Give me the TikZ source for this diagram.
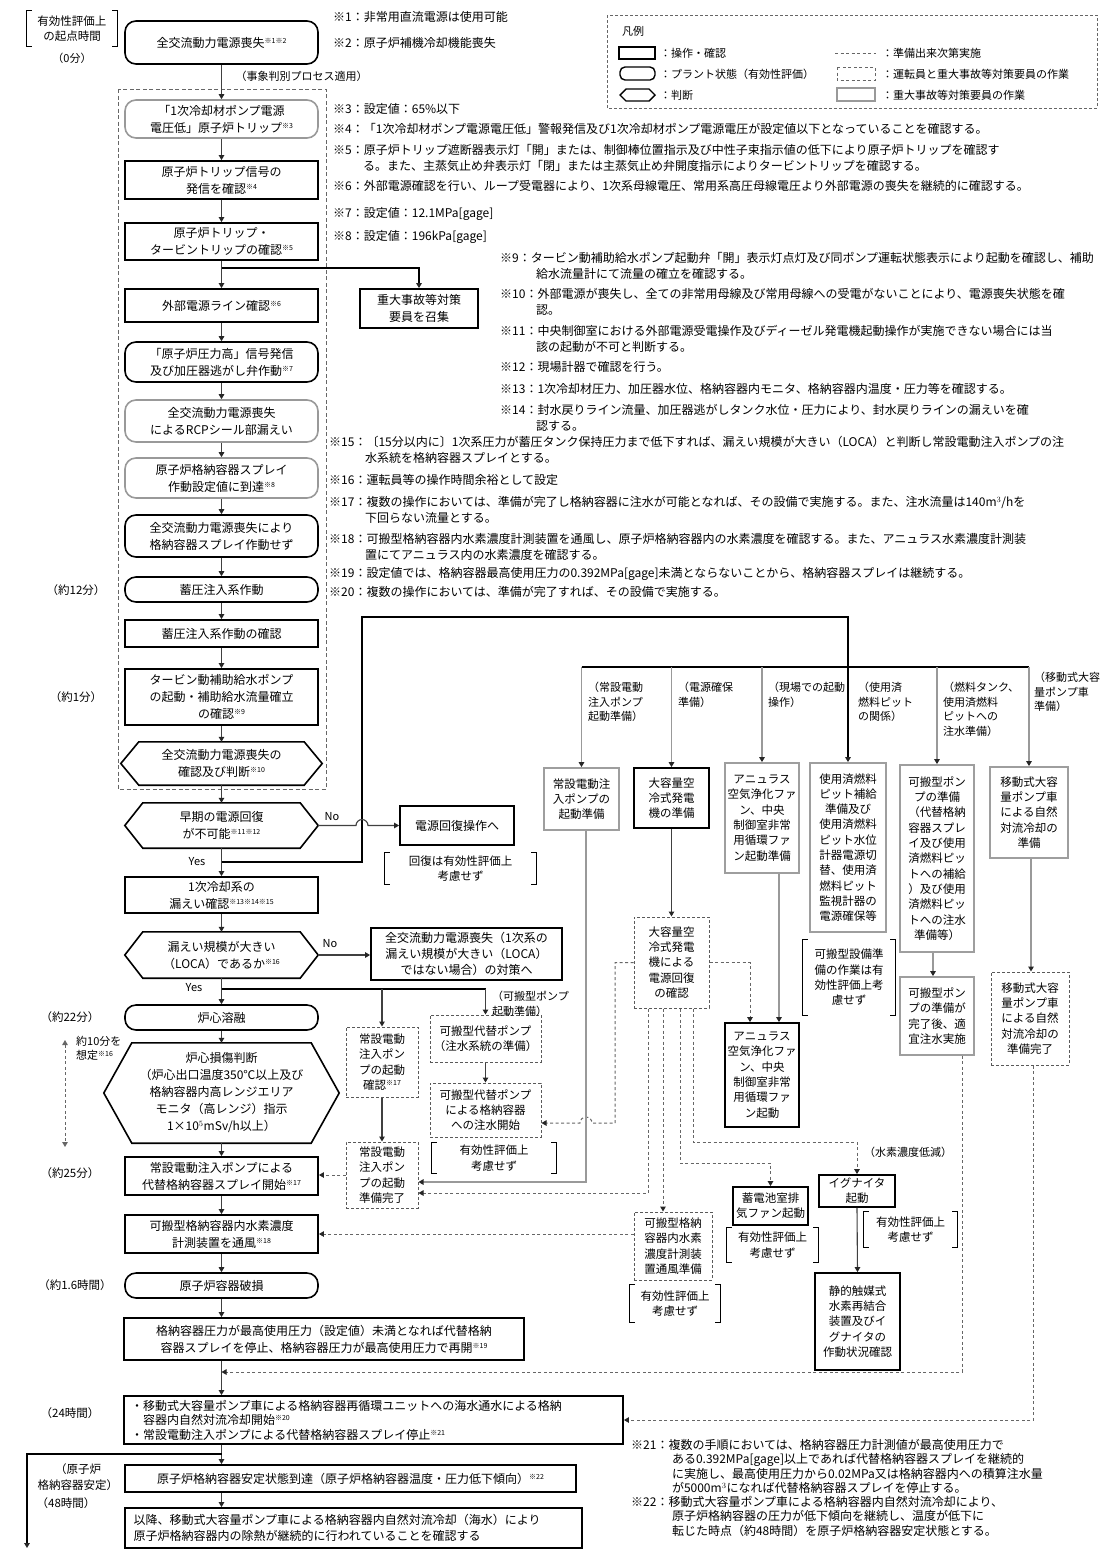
\documentclass[tikz,border=0pt]{standalone}
\usepackage{fontspec}
\setmainfont{Noto Sans CJK JP}
\usetikzlibrary{arrows.meta}
\newcommand{\sups}[1]{\raisebox{0.6ex}{\fontsize{7}{7}\selectfont #1}}
\newcommand{\mkbox}[7][]{%
 \pgfmathsetmacro{\mybw}{#5-#3}\pgfmathsetmacro{\mybh}{#6-#4}%
 \pgfmathsetmacro{\mycx}{(#3+#5)/2}\pgfmathsetmacro{\mycy}{(#4+#6)/2}%
 \node[#1, minimum width=\mybw pt, minimum height=\mybh pt] (#2) at (\mycx,\mycy) {#7};}
\newcommand{\mkhex}[8][]{%
 \pgfmathsetmacro{\mybw}{#5-#3}\pgfmathsetmacro{\mybh}{#6-#4}%
 \pgfmathsetmacro{\mycx}{(#3+#5)/2}\pgfmathsetmacro{\mycy}{(#4+#6)/2}%
 \node[fm, align=center, inner sep=1pt, minimum width=\mybw pt, minimum height=\mybh pt] (#2) at (\mycx,\mycy) {#8};
 \draw[#1] (#2.west) -- ([xshift=#7pt]#2.north west) -- ([xshift=-#7pt]#2.north east) -- (#2.east) -- ([xshift=-#7pt]#2.south east) -- ([xshift=#7pt]#2.south west) -- cycle;}
\newcommand{\mkbrk}[6]{%
 \pgfmathsetmacro{\mybw}{#4-#2}\pgfmathsetmacro{\mybh}{#5-#3}%
 \pgfmathsetmacro{\mycx}{(#2+#4)/2}\pgfmathsetmacro{\mycy}{(#3+#5)/2}%
 \node[fc, align=center, inner sep=1pt, minimum width=\mybw pt, minimum height=\mybh pt] (#1) at (\mycx,\mycy) {#6};
 \draw[line width=1.3pt] ([xshift=5pt]#1.north west) -- (#1.north west) -- (#1.south west) -- ([xshift=5pt]#1.south west);
 \draw[line width=1.3pt] ([xshift=-5pt]#1.north east) -- (#1.north east) -- (#1.south east) -- ([xshift=-5pt]#1.south east);}
\tikzset{
 fm/.style={font=\fontsize{12}{17}\selectfont},
 fc/.style={font=\fontsize{11.5}{15.3}\selectfont},
 fl/.style={font=\fontsize{11}{14.5}\selectfont},
 fn/.style={font=\fontsize{12}{16}\selectfont},
 opb/.style={draw=black, line width=1.8pt, align=center, inner sep=1pt},
 stb/.style={draw=black, line width=1.6pt, rounded corners=11pt, align=center, inner sep=1pt},
 stg/.style={stb, draw=black!40},
 gyb/.style={draw=black!38, line width=1.8pt, align=center, inner sep=1pt},
 dsb/.style={draw=black!65, line width=1pt, dash pattern=on 3pt off 2pt, align=center, inner sep=1pt},
 hexl/.style={draw=black, line width=1.6pt},
 lab/.style={align=left, inner sep=0pt},
 ar/.style={-{Triangle[length=5pt,width=5.5pt,color=black!85]}},
 mline/.style={draw=black!75, line width=1.1pt},
 bline/.style={draw=black, line width=2pt},
 gline/.style={draw=black!40, line width=1.8pt},
 dline/.style={draw=black!60, line width=1pt, dash pattern=on 3pt off 2.5pt},
}
\begin{document}
\begin{tikzpicture}[x=1pt,y=-1pt]
\useasboundingbox (0,0) rectangle (1113,1551);
\fill[white] (0,0) rectangle (1113,1551);

% ---------- top left ----------
\mkbrk{tl}{27}{11}{117}{46}{有効性評価上\\の起点時間}
\node[fl] (t0) at (72,58) {（0分）};

% ---------- legend ----------
\draw[draw=black!60, line width=0.8pt, dash pattern=on 3pt off 2pt] (607,15) rectangle (1097,108);
\node[fl,lab,anchor=west] (legT) at (622,31) {凡例};
\draw[line width=1.8pt] (619,47) rectangle (655,59);
\node[fl,lab,anchor=west] (leg1) at (660,53) {：操作・確認};
\draw[line width=1.4pt, rounded corners=5pt] (620,67) rectangle (655,80);
\node[fl,lab,anchor=west] (leg2) at (660,74) {：プラント状態（有効性評価）};
\draw[line width=1.4pt] (620,95) -- (626,89) -- (649,89) -- (655,95) -- (649,101) -- (626,101) -- cycle;
\node[fl,lab,anchor=west] (leg3) at (660,95) {：判断};
\draw[dline] (835,53) -- (876,53);
\node[fl,lab,anchor=west] (leg4) at (882,53) {：準備出来次第実施};
\draw[dline] (837,67) rectangle (875,80);
\node[fl,lab,anchor=west] (leg5) at (882,74) {：運転員と重大事故等対策要員の作業};
\draw[gline] (837,88) rectangle (875,101);
\node[fl,lab,anchor=west] (leg6) at (882,95) {：重大事故等対策要員の作業};

% ---------- main column ----------
\coordinate (mx) at (221.5,0);
\mkbox[stb,fm]{B1}{125}{21}{318}{64}{全交流動力電源喪失\sups{※1※2}}
\node[fl,anchor=west] (lproc) at (232,76) {（事象判別プロセス適用）};
\draw[draw=black!60, line width=1pt, dash pattern=on 4pt off 2.5pt] (118,89) rectangle (326,789);
\mkbox[stg,fm]{B2}{125}{100}{318}{138}{「1次冷却材ポンプ電源\\電圧低」原子炉トリップ\sups{※3}}
\mkbox[opb,fm]{B3}{125}{161}{318}{199}{原子炉トリップ信号の\\発信を確認\sups{※4}}
\mkbox[opb,fm]{B4}{125}{223}{318}{260}{原子炉トリップ・\\タービントリップの確認\sups{※5}}
\mkbox[opb,fm]{B5}{125}{289}{318}{322}{外部電源ライン確認\sups{※6}}
\mkbox[opb,fm]{SA}{360}{289}{478}{328}{重大事故等対策\\要員を召集}
\mkbox[stb,fm]{B6}{125}{342}{318}{382}{「原子炉圧力高」信号発信\\及び加圧器逃がし弁作動\sups{※7}}
\mkbox[stg,fm]{B7}{125}{400}{318}{442}{全交流動力電源喪失\\によるRCPシール部漏えい}
\mkbox[stg,fm]{B8}{125}{458}{318}{498}{原子炉格納容器スプレイ\\作動設定値に到達\sups{※8}}
\mkbox[stb,fm]{B9}{125}{515}{318}{557}{全交流動力電源喪失により\\格納容器スプレイ作動せず}
\mkbox[stb,fm]{B10}{125}{577}{318}{602}{蓄圧注入系作動}
\mkbox[opb,fm]{B11}{125}{620}{318}{647}{蓄圧注入系作動の確認}
\mkbox[opb,fm]{B12}{125}{669}{318}{725}{タービン動補助給水ポンプ\\の起動・補助給水流量確立\\の確認\sups{※9}}
\mkhex[hexl]{H13}{121}{742}{322}{785}{18}{全交流動力電源喪失の\\確認及び判断\sups{※10}}
\mkhex[hexl]{H14}{125}{803}{318}{848}{18}{早期の電源回復\\が不可能\sups{※11※12}}
\mkbox[opb,fm]{RC}{400}{806}{514}{845}{電源回復操作へ}
\mkbrk{RCb}{385}{853}{536}{884}{回復は有効性評価上\\考慮せず}
\mkbox[opb,fm]{B15}{125}{877}{318}{913}{1次冷却系の\\漏えい確認\sups{※13※14※15}}
\mkhex[hexl]{H16}{125}{932}{318}{978}{18}{漏えい規模が大きい\\（LOCA）であるか\sups{※16}}
\mkbox[opb,font=\fontsize{12}{16}\selectfont]{NB}{371}{928}{562}{980}{全交流動力電源喪失（1次系の\\漏えい規模が大きい（LOCA）\\ではない場合）の対策へ}
\mkbox[stb,fm]{R1}{125}{1005}{318}{1030}{炉心溶融}
\mkhex[hexl]{H17}{104}{1043}{339}{1143}{28}{炉心損傷判断\\（炉心出口温度350℃以上及び\\格納容器内高レンジエリア\\モニタ（高レンジ）指示\\1×10$^{5}$mSv/h以上）}
\mkbox[opb,fm]{B18}{125}{1157}{318}{1195}{常設電動注入ポンプによる\\代替格納容器スプレイ開始\sups{※17}}
\mkbox[opb,fm]{B19}{125}{1215}{318}{1253}{可搬型格納容器内水素濃度\\計測装置を通風\sups{※18}}
\mkbox[stb,fm]{R20}{125}{1273}{318}{1298}{原子炉容器破損}
\mkbox[opb,fm]{B21}{124}{1318}{524}{1360}{格納容器圧力が最高使用圧力（設定値）未満となれば代替格納\\容器スプレイを停止、格納容器圧力が最高使用圧力で再開\sups{※19}}
\mkbox[opb,font=\fontsize{12}{14.5}\selectfont,align=left,text width=485pt]{B22}{124}{1396}{623}{1444}{・移動式大容量ポンプ車による格納容器再循環ユニットへの海水通水による格納\\\hspace*{1em}容器内自然対流冷却開始\sups{※20}\\・常設電動注入ポンプによる代替格納容器スプレイ停止\sups{※21}}
\mkbox[opb,fm]{B23}{125}{1465}{576}{1492}{原子炉格納容器安定状態到達（原子炉格納容器温度・圧力低下傾向）\sups{※22}}
\mkbox[opb,font=\fontsize{12}{16}\selectfont,align=left,text width=440pt]{B24}{125}{1508}{582}{1548}{以降、移動式大容量ポンプ車による格納容器内自然対流冷却（海水）により\\原子炉格納容器内の除熱が継続的に行われていることを確認する}

% left time labels
\node[fc] (t1) at (76,590) {（約12分）};
\node[fc] (t2) at (76,697) {（約1分）};
\node[fc] (t3) at (70,1017) {（約22分）};
\node[fc] (t4) at (70,1173) {（約25分）};
\node[fc] (t5) at (75,1285) {（約1.6時間）};
\node[fc] (t6) at (70,1413) {（24時間）};
\node[fc,align=center] (t7) at (78,1477) {（原子炉\\格納容器安定）};
\node[fc] (t8) at (66,1503) {（48時間）};
\coordinate (ta) at (65,1040);
\coordinate (tb) at (65,1147);
\draw[dline,{Triangle[length=5pt,width=5.5pt]}-{Triangle[length=5pt,width=5.5pt]}] (ta) -- (tb);
\node[fl,lab,anchor=north west] (t9) at (76,1036) {約10分を\\想定\sups{※16}};

% ---------- right side ----------
\mkbox[gyb,fc]{C1}{544}{768}{619}{830}{常設電動注\\入ポンプの\\起動準備}
\mkbox[opb,fc]{C2}{634}{768}{709}{828}{大容量空\\冷式発電\\機の準備}
\mkbox[gyb,fc]{C3}{725}{763}{799}{873}{アニュラス\\空気浄化ファ\\ン、中央\\制御室非常\\用循環ファ\\ン起動準備}
\mkbox[gyb,fc]{C4}{810}{763}{886}{932}{使用済燃料\\ピット補給\\準備及び\\使用済燃料\\ピット水位\\計器電源切\\替、使用済\\燃料ピット\\監視計器の\\電源確保等}
\mkbox[gyb,fc]{C5}{900}{765}{974}{952}{可搬型ポン\\プの準備\\（代替格納\\容器スプレ\\イ及び使用\\済燃料ピッ\\トへの補給\\）及び使用\\済燃料ピッ\\トへの注水\\準備等）}
\mkbox[gyb,fc]{C6}{990}{767}{1068}{858}{移動式大容\\量ポンプ車\\による自然\\対流冷却の\\準備}
\mkbox[dsb,fc]{C2b}{634}{917}{709}{1008}{大容量空\\冷式発電\\機による\\電源回復\\の確認}
\mkbox[opb,fc]{C3b}{725}{1023}{799}{1127}{アニュラス\\空気浄化ファ\\ン、中央\\制御室非常\\用循環ファ\\ン起動}
\mkbrk{C4r}{803}{940}{895}{1015}{可搬型設備準\\備の作業は有\\効性評価上考\\慮せず}
\mkbox[gyb,fc]{C5b}{900}{977}{974}{1055}{可搬型ポン\\プの準備が\\完了後、適\\宜注水実施}
\mkbox[dsb,fc]{C6b}{991}{972}{1069}{1065}{移動式大容\\量ポンプ車\\による自然\\対流冷却の\\準備完了}
\mkbox[dsb,fc]{S1}{346}{1027}{418}{1097}{常設電動\\注入ポン\\プの起動\\確認\sups{※17}}
\mkbox[dsb,fc]{S2}{346}{1142}{418}{1208}{常設電動\\注入ポン\\プの起動\\準備完了}
\mkbox[dsb,fc]{P1}{430}{1015}{541}{1062}{可搬型代替ポンプ\\（注水系統の準備）}
\mkbox[dsb,fc]{P2}{430}{1083}{541}{1137}{可搬型代替ポンプ\\による格納容器\\への注水開始}
\mkbrk{P2r}{432}{1143}{556}{1173}{有効性評価上\\考慮せず}
\mkbox[dsb,fc]{HB}{634}{1212}{712}{1280}{可搬型格納\\容器内水素\\濃度計測装\\置通風準備}
\mkbrk{HBr}{630}{1285}{720}{1322}{有効性評価上\\考慮せず}
\mkbox[opb,fc]{BF}{733}{1187}{808}{1225}{蓄電池室排\\気ファン起動}
\mkbrk{BFr}{727}{1228}{818}{1262}{有効性評価上\\考慮せず}
\mkbox[opb,fc]{IG}{819}{1175}{895}{1207}{イグナイタ\\起動}
\mkbrk{IGr}{864}{1212}{957}{1247}{有効性評価上\\考慮せず}
\mkbox[opb,fc]{PAR}{815}{1273}{900}{1370}{静的触媒式\\水素再結合\\装置及びイ\\グナイタの\\作動状況確認}

% column labels
\node[fl,lab,anchor=north west] (L1) at (588,682) {（常設電動\\注入ポンプ\\起動準備）};
\node[fl,lab,anchor=north west] (L2) at (678,682) {（電源確保\\準備）};
\node[fl,lab,anchor=north west] (L3) at (768,682) {（現場での起動\\操作）};
\node[fl,lab,anchor=north west] (L4) at (858,682) {（使用済\\燃料ピット\\の関係）};
\node[fl,lab,anchor=north west] (L5) at (943,682) {（燃料タンク、\\使用済燃料\\ピットへの\\注水準備）};
\node[fl,lab,anchor=north west] (L6) at (1034,672) {（移動式大容\\量ポンプ車\\準備）};
\node[fl,lab,anchor=north west] (LP) at (492,991) {（可搬型ポンプ\\起動準備）};
\node[fl,lab,anchor=west] (LH) at (864,1152) {（水素濃度低減）};

% ---------- main connectors ----------
\foreach \a/\b in {B1/B2,B2/B3,B3/B4,B4/B5,B5/B6,B6/B7,B7/B8,B8/B9,B9/B10,B10/B11,B11/B12,B12/H13,H13/H14,H14/B15,B15/H16,H16/R1,R1/H17,H17/B18,B18/B19,B19/R20,R20/B21,B21/B22,B22/B23,B23/B24}
  \draw[mline,ar] (mx |- \a.south) -- (mx |- \b.north);

\coordinate (j1) at (221.5,268);
\draw[bline,ar] (j1) -| (SA.north);

\coordinate (j2) at (221.5,862);
\draw[bline,ar] (j2) -- (362,862) -- (362,617) -| (C4.north);
\draw[mline,ar] (H14.east) -- (356,825.5) arc[start angle=180,end angle=0,radius=6pt] -- (RC.west);
\node[fl] (no1) at (332,817) {No};
\node[fl] (yes1) at (197,862) {Yes};

\draw[mline,ar] (H16.east) -- (H16.east -| NB.west);
\node[fl] (no2) at (330,944) {No};
\node[fl] (yes2) at (194,988) {Yes};

\coordinate (j3) at (221.5,989);
\draw[bline] (j3) -- (P1.north |- j3);
\draw[mline,ar] (S1.north |- j3) -- (S1.north);
\draw[mline,ar] (P1.north |- j3) -- (P1.north);
\draw[mline,ar] (S1.south) -- (S2.north);
\draw[dline,ar] (S2.west) -- (S2.west -| B18.east);
\draw[mline,ar] (P1.south) -- (P2.north);

% bus of right columns
\coordinate (bus) at (0,667);
\draw[bline] (C1.north |- bus) -- (C6.north |- bus);
\foreach \c in {C1,C2,C3,C5,C6}
  \draw[gline,ar] (\c.north |- bus) -- (\c.north);

\coordinate (k1) at (615,1123);
\draw[dline,ar] (C2b.west) -- (615,962.5) -- (k1) -- (592,1123) arc[start angle=0,end angle=180,radius=6pt] -- (P2.east |- k1);
\coordinate (k2) at (586,1182);
\draw[gline,ar] (C1.south -| k2) -- (k2) -- (S2.east |- k2);
\coordinate (k3) at (648,1193);
\draw[dline,ar] (C2b.south -| k3) -- (k3) -- (S2.east |- k3);
\coordinate (k4) at (663,1212);
\draw[dline,ar] (C2b.south -| k4) -- (HB.north -| k4);
\coordinate (k5) at (680,1163);
\draw[dline,ar] (C2b.south -| k5) -- (k5) -| (BF.north);
\coordinate (k6) at (693,1142);
\draw[dline,ar] (C2b.south -| k6) -- (k6) -| (IG.north);
\coordinate (k7) at (750,962.5);
\draw[dline,ar] (C2b.east) -- (k7) -- (C3b.north -| k7);
\coordinate (k8) at (779,0);
\draw[gline,ar] (C3.south -| k8) -- (C3b.north -| k8);
\draw[mline,ar] (C2.south) -- (C2b.north);
\draw[gline,ar] ([xshift=-4pt]C5.south) -- ([xshift=-4pt]C5b.north);
\coordinate (k9) at (962,1372);
\coordinate (j5) at (221.5,1372);
\draw[dline,ar] (C5b.south -| k9) -- (k9) -- (j5);
\draw[gline,ar] ([xshift=2pt]C6.south) -- ([xshift=1pt]C6b.north);
\coordinate (k10) at (1033,1420);
\draw[dline,ar] (C6b.south -| k10) -- (k10) -- (B22.east |- k10);
\draw[dline,ar] (HB.west |- B19.east) -- (B19.east);
\draw[mline,ar] (IG.south) -- (PAR.north);

\coordinate (j6) at (221.5,1454);
\coordinate (e6) at (27,1548);
\draw[bline,ar] (j6) -- (e6 |- j6) -- (e6);

% ---------- notes ----------
\node[fn,lab,anchor=north west] (n1) at (333,11) {※1：非常用直流電源は使用可能};
\node[fn,lab,anchor=north west] (n2) at (333,37) {※2：原子炉補機冷却機能喪失};
\node[fn,lab,anchor=north west] (n3) at (333,103) {※3：設定値：65\%以下};
\node[fn,lab,anchor=north west] (n4) at (333,123) {※4：「1次冷却材ポンプ電源電圧低」警報発信及び1次冷却材ポンプ電源電圧が設定値以下となっていることを確認する。};
\node[fn,lab,anchor=north west] (n5) at (333,144) {※5：原子炉トリップ遮断器表示灯「開」または、制御棒位置指示及び中性子束指示値の低下により原子炉トリップを確認す\\\hspace*{2.5em}る。また、主蒸気止め弁表示灯「閉」または主蒸気止め弁開度指示によりタービントリップを確認する。};
\node[fn,lab,anchor=north west] (n6) at (333,180) {※6：外部電源確認を行い、ループ受電器により、1次系母線電圧、常用系高圧母線電圧より外部電源の喪失を継続的に確認する。};
\node[fn,lab,anchor=north west] (n7) at (333,207) {※7：設定値：12.1MPa[gage]};
\node[fn,lab,anchor=north west] (n8) at (333,230) {※8：設定値：196kPa[gage]};
\node[fn,lab,anchor=north west] (n9) at (500,252) {※9：タービン動補助給水ポンプ起動弁「開」表示灯点灯及び同ポンプ運転状態表示により起動を確認し、補助\\\hspace*{3em}給水流量計にて流量の確立を確認する。};
\node[fn,lab,anchor=north west] (n10) at (500,288) {※10：外部電源が喪失し、全ての非常用母線及び常用母線への受電がないことにより、電源喪失状態を確\\\hspace*{3em}認。};
\node[fn,lab,anchor=north west] (n11) at (500,325) {※11：中央制御室における外部電源受電操作及びディーゼル発電機起動操作が実施できない場合には当\\\hspace*{3em}該の起動が不可と判断する。};
\node[fn,lab,anchor=north west] (n12) at (500,361) {※12：現場計器で確認を行う。};
\node[fn,lab,anchor=north west] (n13) at (500,383) {※13：1次冷却材圧力、加圧器水位、格納容器内モニタ、格納容器内温度・圧力等を確認する。};
\node[fn,lab,anchor=north west] (n14) at (500,404) {※14：封水戻りライン流量、加圧器逃がしタンク水位・圧力により、封水戻りラインの漏えいを確\\\hspace*{3em}認する。};
\node[fn,lab,anchor=north west] (n15) at (329,436) {※15：〔15分以内に〕1次系圧力が蓄圧タンク保持圧力まで低下すれば、漏えい規模が大きい（LOCA）と判断し常設電動注入ポンプの注\\\hspace*{3em}水系統を格納容器スプレイとする。};
\node[fn,lab,anchor=north west] (n16) at (329,474) {※16：運転員等の操作時間余裕として設定};
\node[fn,lab,anchor=north west] (n17) at (329,496) {※17：複数の操作においては、準備が完了し格納容器に注水が可能となれば、その設備で実施する。また、注水流量は140m$^{3}$/hを\\\hspace*{3em}下回らない流量とする。};
\node[fn,lab,anchor=north west] (n18) at (329,533) {※18：可搬型格納容器内水素濃度計測装置を通風し、原子炉格納容器内の水素濃度を確認する。また、アニュラス水素濃度計測装\\\hspace*{3em}置にてアニュラス内の水素濃度を確認する。};
\node[fn,lab,anchor=north west] (n19) at (329,567) {※19：設定値では、格納容器最高使用圧力の0.392MPa[gage]未満とならないことから、格納容器スプレイは継続する。};
\node[fn,lab,anchor=north west] (n20) at (329,586) {※20：複数の操作においては、準備が完了すれば、その設備で実施する。};
\node[lab,anchor=north west,font=\fontsize{12}{14.5}\selectfont] (n21) at (631,1439) {※21：複数の手順においては、格納容器圧力計測値が最高使用圧力で\\\hspace*{3.4em}ある0.392MPa[gage]以上であれば代替格納容器スプレイを継続的\\\hspace*{3.4em}に実施し、最高使用圧力から0.02MPa又は格納容器内への積算注水量\\\hspace*{3.4em}が5000m$^{3}$になれば代替格納容器スプレイを停止する。};
\node[lab,anchor=north west,font=\fontsize{12}{14.5}\selectfont] (n22) at (631,1496) {※22：移動式大容量ポンプ車による格納容器内自然対流冷却により、\\\hspace*{3.4em}原子炉格納容器の圧力が低下傾向を継続し、温度が低下に\\\hspace*{3.4em}転じた時点（約48時間）を原子炉格納容器安定状態とする。};
\end{tikzpicture}
\end{document}
